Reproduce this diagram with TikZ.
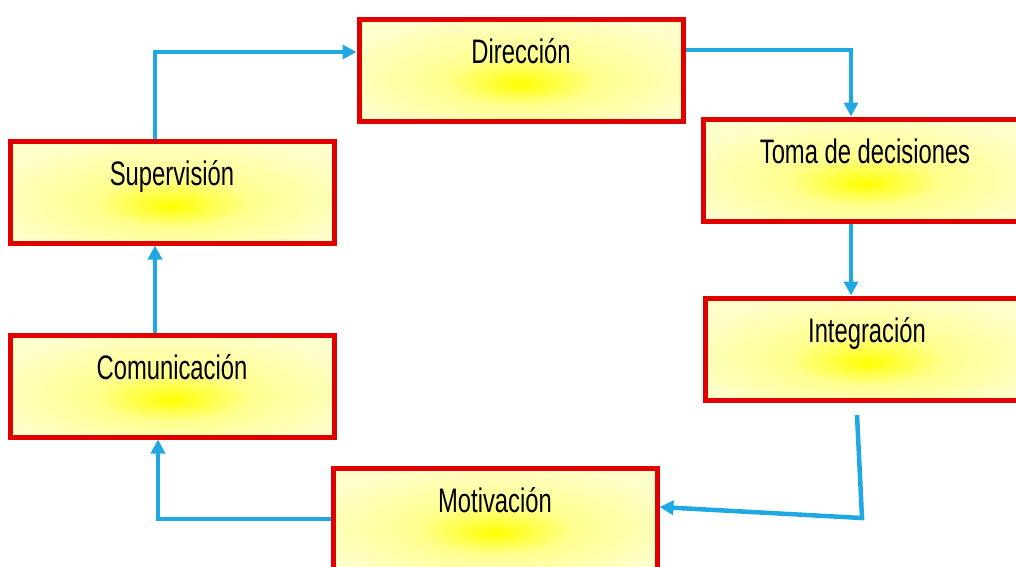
\documentclass[tikz,border=0pt]{standalone}
\usepackage{fontspec}
\setmainfont{Liberation Sans}[FakeStretch=0.7]
\usetikzlibrary{arrows.meta}
\definecolor{boxred}{RGB}{224,0,0}
\definecolor{flowblue}{RGB}{32,168,226}
\definecolor{paleyel}{RGB}{255,255,204}
\pgfdeclareradialshading{glow}{\pgfpoint{0bp}{-7bp}}{%
  color(0bp)=(yellow); color(4bp)=(yellow!75!paleyel);
  color(12bp)=(yellow!30!paleyel); color(30bp)=(paleyel); color(50bp)=(paleyel)}
\tikzset{
  stage/.style={draw=boxred, line width=5pt, shade, shading=glow,
    minimum width=324pt, inner ysep=0pt, text height=44pt, text depth=58pt,
    font=\fontsize{34}{40}\selectfont},
  flow/.style={draw=flowblue, line width=4.5pt,
    -{Triangle[length=14pt,width=14pt]}}
}
\begin{document}
\begin{tikzpicture}[x=1pt,y=-1pt]
      \useasboundingbox (0,0) rectangle (1016,566);
      \node[stage] (dir) at (521,70) {Dirección};
      \node[stage] (toma) at (865,170) {Toma de decisiones};
      \node[stage] (integ) at (867,349) {Integración};
      \node[stage] (motiv) at (495,519) {Motivación};
      \node[stage] (comun) at (172,386) {Comunicación};
      \node[stage] (superv) at (172,192) {Supervisión};
      \coordinate (istart) at (857,415);
      \coordinate (icorner) at (862,518);
      \begin{scope}[flow]
        \draw ([xshift=-17pt]superv.north) |- ([yshift=18pt]dir.west);
        \draw ([yshift=20pt]dir.east) -| ([xshift=-14pt]toma.north);
        \draw ([xshift=-14pt]toma.south) -- ([xshift=-16pt]integ.north);
        \draw (istart) -- (icorner) -- ([yshift=12pt]motiv.east);
        \draw (motiv.west) -| ([xshift=-14pt]comun.south);
        \draw ([xshift=-17pt]comun.north) -- ([xshift=-17pt]superv.south);
      \end{scope}
    \end{tikzpicture}
\end{document}
